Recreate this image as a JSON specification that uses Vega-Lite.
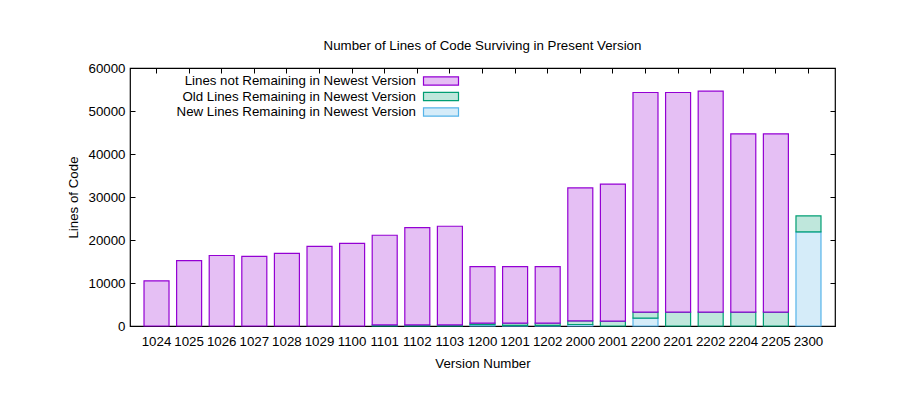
{
  "$schema": "https://vega.github.io/schema/vega-lite/v6.json",
  "autosize": "none",
  "width": 705,
  "height": 258,
  "padding": {"left": 130, "top": 68, "right": 65, "bottom": 83},
  "background": "white",
  "config": {
    "font": "Liberation Sans",
    "view": {"stroke": "black", "strokeWidth": 1.2},
    "axis": {"labelFont": "Liberation Sans", "titleFont": "Liberation Sans", "labelFontSize": 13.3, "titleFontSize": 13.3, "labelColor": "black", "titleColor": "black", "titleFontWeight": "normal", "grid": false, "domain": false, "tickColor": "black"},
    "legend": {"orient": "none", "legendX": 303, "legendY": 5, "title": null,
               "symbolType": "M-2.5,-0.6H2.5V0.6H-2.5Z", "symbolSize": 196,
               "symbolStrokeWidth": 1.2,
               "labelAlign": "right", "labelOffset": -33, "labelFontSize": 13.3, "labelFont": "Liberation Sans", "labelColor": "black", "labelLimit": 400,
               "rowPadding": 0.5}
  },
  "title": {"text": "Number of Lines of Code Surviving in Present Version", "fontSize": 13.3, "fontWeight": "normal", "font": "Liberation Sans", "offset": 9, "color": "black"},
  "data": {"values": [
    {"version": "1024", "series": "Lines not Remaining in Newest Version", "lvl": 3, "lines": 10500},
    {"version": "1025", "series": "Lines not Remaining in Newest Version", "lvl": 3, "lines": 15200},
    {"version": "1026", "series": "Lines not Remaining in Newest Version", "lvl": 3, "lines": 16400},
    {"version": "1027", "series": "Lines not Remaining in Newest Version", "lvl": 3, "lines": 16200},
    {"version": "1028", "series": "Lines not Remaining in Newest Version", "lvl": 3, "lines": 16900},
    {"version": "1029", "series": "Lines not Remaining in Newest Version", "lvl": 3, "lines": 18500},
    {"version": "1100", "series": "Lines not Remaining in Newest Version", "lvl": 3, "lines": 19200},
    {"version": "1101", "series": "Old Lines Remaining in Newest Version", "lvl": 2, "lines": 250},
    {"version": "1101", "series": "Lines not Remaining in Newest Version", "lvl": 3, "lines": 20850},
    {"version": "1102", "series": "Old Lines Remaining in Newest Version", "lvl": 2, "lines": 250},
    {"version": "1102", "series": "Lines not Remaining in Newest Version", "lvl": 3, "lines": 22650},
    {"version": "1103", "series": "Old Lines Remaining in Newest Version", "lvl": 2, "lines": 250},
    {"version": "1103", "series": "Lines not Remaining in Newest Version", "lvl": 3, "lines": 22950},
    {"version": "1200", "series": "New Lines Remaining in Newest Version", "lvl": 1, "lines": 300},
    {"version": "1200", "series": "Old Lines Remaining in Newest Version", "lvl": 2, "lines": 350},
    {"version": "1200", "series": "Lines not Remaining in Newest Version", "lvl": 3, "lines": 13150},
    {"version": "1201", "series": "New Lines Remaining in Newest Version", "lvl": 1, "lines": 150},
    {"version": "1201", "series": "Old Lines Remaining in Newest Version", "lvl": 2, "lines": 500},
    {"version": "1201", "series": "Lines not Remaining in Newest Version", "lvl": 3, "lines": 13150},
    {"version": "1202", "series": "New Lines Remaining in Newest Version", "lvl": 1, "lines": 150},
    {"version": "1202", "series": "Old Lines Remaining in Newest Version", "lvl": 2, "lines": 500},
    {"version": "1202", "series": "Lines not Remaining in Newest Version", "lvl": 3, "lines": 13150},
    {"version": "2000", "series": "New Lines Remaining in Newest Version", "lvl": 1, "lines": 350},
    {"version": "2000", "series": "Old Lines Remaining in Newest Version", "lvl": 2, "lines": 850},
    {"version": "2000", "series": "Lines not Remaining in Newest Version", "lvl": 3, "lines": 30900},
    {"version": "2001", "series": "Old Lines Remaining in Newest Version", "lvl": 2, "lines": 1150},
    {"version": "2001", "series": "Lines not Remaining in Newest Version", "lvl": 3, "lines": 31850},
    {"version": "2200", "series": "New Lines Remaining in Newest Version", "lvl": 1, "lines": 1850},
    {"version": "2200", "series": "Old Lines Remaining in Newest Version", "lvl": 2, "lines": 1400},
    {"version": "2200", "series": "Lines not Remaining in Newest Version", "lvl": 3, "lines": 51050},
    {"version": "2201", "series": "Old Lines Remaining in Newest Version", "lvl": 2, "lines": 3250},
    {"version": "2201", "series": "Lines not Remaining in Newest Version", "lvl": 3, "lines": 51050},
    {"version": "2202", "series": "Old Lines Remaining in Newest Version", "lvl": 2, "lines": 3250},
    {"version": "2202", "series": "Lines not Remaining in Newest Version", "lvl": 3, "lines": 51350},
    {"version": "2204", "series": "Old Lines Remaining in Newest Version", "lvl": 2, "lines": 3250},
    {"version": "2204", "series": "Lines not Remaining in Newest Version", "lvl": 3, "lines": 41450},
    {"version": "2205", "series": "Old Lines Remaining in Newest Version", "lvl": 2, "lines": 3250},
    {"version": "2205", "series": "Lines not Remaining in Newest Version", "lvl": 3, "lines": 41450},
    {"version": "2300", "series": "New Lines Remaining in Newest Version", "lvl": 1, "lines": 21900},
    {"version": "2300", "series": "Old Lines Remaining in Newest Version", "lvl": 2, "lines": 3700}
  ]},
  "layer": [
    {
      "mark": {"type": "bar", "strokeWidth": 1.2},
      "encoding": {
        "x": {"field": "version", "type": "nominal", "sort": null,
              "scale": {"paddingInner": 0.233, "paddingOuter": 0.43},
              "axis": {"title": "Version Number", "labelAngle": 0, "ticks": false, "labelPadding": 8, "titlePadding": 9}},
        "y": {"field": "lines", "type": "quantitative", "stack": "zero",
              "scale": {"domain": [0, 60000], "nice": false},
              "axis": {"title": "Lines of Code", "values": [0, 10000, 20000, 30000, 40000, 50000, 60000], "format": "d", "ticks": false, "labelPadding": 5, "titlePadding": 8}},
        "order": {"field": "lvl", "type": "quantitative", "sort": "ascending"},
        "color": {"field": "series", "type": "nominal",
                  "scale": {"domain": ["Lines not Remaining in Newest Version", "Old Lines Remaining in Newest Version", "New Lines Remaining in Newest Version"],
                            "range": ["#e5bff4", "#bfe7dc", "#d5ecf9"]}},
        "stroke": {"field": "series", "type": "nominal",
                   "scale": {"domain": ["Lines not Remaining in Newest Version", "Old Lines Remaining in Newest Version", "New Lines Remaining in Newest Version"],
                             "range": ["#9400d3", "#009e73", "#56b4e9"]}}
      }
    },
    {
      "mark": {"type": "tick", "opacity": 0},
      "encoding": {
        "x": {"field": "version", "type": "nominal", "sort": null,
              "axis": {"orient": "top", "title": null, "labels": false, "ticks": true, "tickSize": -5}},
        "y": {"field": "lines", "type": "quantitative", "stack": "zero",
              "axis": {"orient": "right", "title": null, "labels": false, "values": [0, 10000, 20000, 30000, 40000, 50000, 60000], "ticks": true, "tickSize": -5}}
      }
    },
    {
      "mark": {"type": "tick", "opacity": 0},
      "encoding": {
        "x": {"field": "version", "type": "nominal", "sort": null,
              "axis": {"orient": "bottom", "title": null, "labels": false, "ticks": true, "tickSize": -5}},
        "y": {"field": "lines", "type": "quantitative", "stack": "zero",
              "axis": {"orient": "left", "title": null, "labels": false, "values": [0, 10000, 20000, 30000, 40000, 50000, 60000], "ticks": true, "tickSize": -5}}
      }
    }
  ],
  "resolve": {"axis": {"x": "independent", "y": "independent"}}
}
